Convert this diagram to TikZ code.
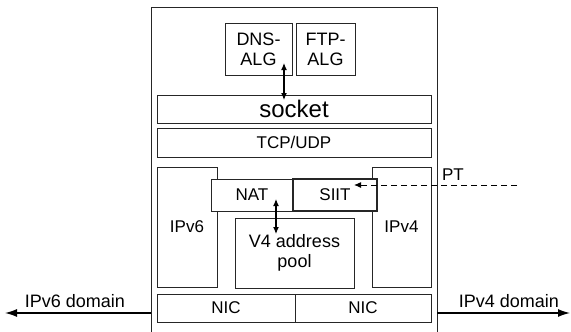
\documentclass[tikz,border=0pt]{standalone}
\usepackage{fontspec}
\setmainfont{Liberation Sans}
\usetikzlibrary{arrows.meta}
\begin{document}
\begin{tikzpicture}[x=1pt,y=-1pt,
  box/.style={draw=black!85, line width=0.9pt, fill=white, inner sep=0pt, align=center,
    font=\fontsize{17}{19}\selectfont},
  bigbox/.style={box, font=\fontsize{18}{20}\selectfont},
  thickbox/.style={box, line width=1.8pt},
  lbl/.style={inner sep=0pt, font=\fontsize{18}{20}\selectfont},
  dbl/.style={line width=1.1pt, {Latex[length=7pt,width=6pt]}-{Latex[length=7pt,width=6pt]}},
  dom/.style={line width=1.3pt, -{Latex[length=12pt,width=8pt]}}
]
\useasboundingbox (0,0) rectangle (571,332);
\fill[white] (0,0) rectangle (571,332);
% outer frame (runs past the bottom edge)
\node[draw=black!85, line width=1pt, minimum width=286pt, minimum height=343pt, inner sep=0pt] (host) at (294,178.5) {};
\node[bigbox, minimum width=67pt, minimum height=52pt] (dns) at (258.5,49) {DNS-\\ALG};
\node[bigbox, minimum width=59pt, minimum height=52pt] (ftp) at (325.5,49) {FTP-\\ALG};
\node[box, minimum width=274pt, minimum height=28pt, font=\fontsize{24}{26}\selectfont] (socket) at (294,109) {socket};
\node[box, minimum width=274pt, minimum height=29pt] (tcp) at (294,142.5) {TCP/UDP};
\node[box, minimum width=60pt, minimum height=120pt] (ipv6) at (187,227) {IPv6};
\node[box, minimum width=59pt, minimum height=120pt] (ipv4) at (401.5,227) {IPv4};
\node[box, minimum width=82pt, minimum height=32pt] (nat) at (252,195) {NAT};
\node[thickbox, minimum width=84pt, minimum height=32pt] (siit) at (335,195) {SIIT};
\node[bigbox, minimum width=119pt, minimum height=70pt] (pool) at (294.5,253) {V4 address\\pool};
\node[box, minimum width=138pt, minimum height=28pt] (nic1) at (226,308) {NIC};
\node[box, minimum width=136pt, minimum height=28pt] (nic2) at (363,308) {NIC};
% arrows
\coordinate (dnsA) at (284,63);
\coordinate (dnsB) at (284,100);
\draw[dbl] (dnsA) -- (dnsB);
\coordinate (natA) at (276,199);
\coordinate (natB) at (276,234);
\draw[dbl] (natA) -- (natB);
\coordinate (ptS) at (517,185);
\coordinate (ptE) at (354,185);
\draw[line width=1pt, dash pattern=on 6pt off 4pt, -{Latex[length=7pt,width=6pt]}] (ptS) -- (ptE);
\node[lbl, font=\fontsize{17}{19}\selectfont] (pt) at (453,175) {PT};
\coordinate (v6S) at (151,313);
\coordinate (v6E) at (5,313);
\draw[dom] (v6S) -- (v6E);
\coordinate (v4S) at (437,313);
\coordinate (v4E) at (570,313);
\draw[dom] (v4S) -- (v4E);
\node[lbl, anchor=base] (v6l) at (75,307) {IPv6 domain};
\node[lbl, anchor=base] (v4l) at (509,307) {IPv4 domain};
\end{tikzpicture}
\end{document}
